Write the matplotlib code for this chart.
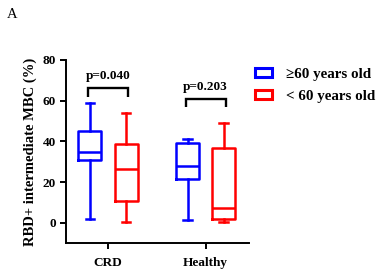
import matplotlib
matplotlib.use("Agg")
import matplotlib.pyplot as plt
from matplotlib.patches import Patch

plt.rcParams['font.family'] = ['Liberation Serif', 'DejaVu Serif']
plt.rcParams['font.weight'] = 'bold'

# data
groups = ['CRD', 'Healthy']
series = ['\u226560 years old', '< 60 years old']
colors = ['#0000ff', '#ff0000']
# [CRD, Healthy] for each series
whislo = [[1.8, 1.1], [0.6, 0.3]]
q1 = [[31.0, 21.7], [10.8, 1.6]]
med = [[34.8, 28.0], [26.4, 7.4]]
q3 = [[45.1, 39.3], [38.7, 36.8]]
whishi = [[59.0, 41.0], [54.0, 48.8]]
pvals = ['p=0.040', 'p=0.203']
bracket_y = [66, 60.7]

fig = plt.figure(figsize=(3.8, 2.71), dpi=100)
ax = fig.add_axes([0.173, 0.103, 0.482, 0.676])

offset = 0.185
width = 0.235
for s in range(2):
    stats = []
    for g in range(2):
        stats.append({'whislo': whislo[s][g], 'q1': q1[s][g], 'med': med[s][g],
                      'q3': q3[s][g], 'whishi': whishi[s][g], 'fliers': []})
    pos = [g + (offset if s else -offset) for g in range(2)]
    lp = dict(color=colors[s], linewidth=1.8)
    ax.bxp(stats, positions=pos, widths=width, capwidths=0.09, showfliers=False,
           boxprops=lp, whiskerprops=lp, capprops=lp, medianprops=lp,
           manage_ticks=False)

# significance brackets
for g in range(2):
    y = bracket_y[g]
    x0, x1 = g - offset - 0.02, g + offset + 0.02
    ax.plot([x0, x0, x1, x1], [y - 4, y, y, y - 4], color='black', lw=1.7,
            solid_capstyle='butt', solid_joinstyle='miter')
    ax.text(g, y + 3.0, pvals[g], ha='center', va='bottom', fontsize=9.5,
            fontweight='bold')

ax.set_xlim(-0.433, 1.443)
ax.set_ylim(-10, 80)
ax.set_xticks([0, 1])
ax.set_xticklabels(groups)
ax.set_yticks([0, 20, 40, 60, 80])
ax.spines['top'].set_visible(False)
ax.spines['right'].set_visible(False)
ax.spines['left'].set_linewidth(1.4)
ax.spines['bottom'].set_linewidth(1.4)
ax.tick_params(width=1.4, length=4, labelsize=9.5, pad=3)
ax.tick_params(axis='x', pad=6)
for lab in ax.get_xticklabels() + ax.get_yticklabels():
    lab.set_fontweight('bold')
ax.set_ylabel('RBD+ intermediate MBC (%)', fontsize=10.5, fontweight='bold', labelpad=4)

handles = [Patch(facecolor='white', edgecolor=c, linewidth=2.2) for c in colors]
fig.legend(handles, series, loc='upper left', bbox_to_anchor=(0.635, 0.80),
           frameon=False, prop={'size': 10.8, 'weight': 'bold'},
           handlelength=1.15, handleheight=0.5, handletextpad=0.9, labelspacing=0.62)

fig.text(0.018, 0.972, 'A', fontsize=10.5, va='top', fontweight='normal')

fig.savefig('out.png', dpi=100)
